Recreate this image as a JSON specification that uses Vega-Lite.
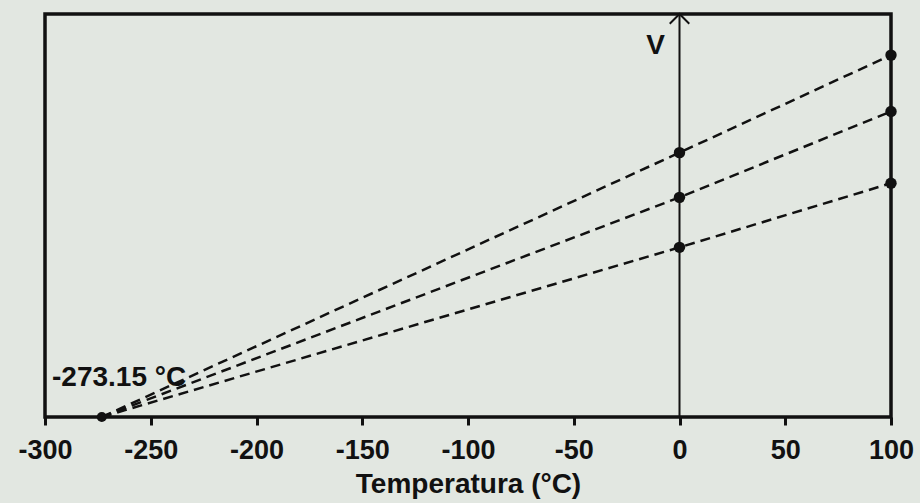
{
  "$schema": "https://vega.github.io/schema/vega-lite/v6.json",
  "width": 846,
  "height": 403,
  "autosize": "none",
  "padding": {"left": 45, "top": 14, "right": 29, "bottom": 86},
  "background": "#e2e7e1",
  "config": {
    "view": {"stroke": "#111", "strokeWidth": 3.5},
    "font": "Liberation Sans"
  },
  "data": {"values": [{}]},
  "datasets": {
    "lines": [
      {"series": "A", "T": -273.15, "V": 0},
      {"series": "A", "T": 0, "V": 65.6},
      {"series": "A", "T": 100, "V": 89.8},
      {"series": "B", "T": -273.15, "V": 0},
      {"series": "B", "T": 0, "V": 54.5},
      {"series": "B", "T": 100, "V": 75.8},
      {"series": "C", "T": -273.15, "V": 0},
      {"series": "C", "T": 0, "V": 42.1},
      {"series": "C", "T": 100, "V": 58.0}
    ]
  },
  "layer": [
    {
      "data": {"name": "lines"},
      "mark": {"type": "line", "strokeDash": [10, 6], "strokeWidth": 2.5, "color": "#111"},
      "encoding": {
        "x": {
          "field": "T", "type": "quantitative",
          "scale": {"domain": [-300, 100], "nice": false, "zero": false},
          "axis": {
            "values": [-300, -250, -200, -150, -100, -50, 0, 50, 100],
            "labelExpr": "'' + datum.value",
            "domain": false, "grid": false,
            "ticks": true, "tickSize": 8, "tickWidth": 3, "tickColor": "#111",
            "labelFontSize": 27, "labelFontWeight": "bold", "labelColor": "#111",
            "labelPadding": 12, "labelFlush": false, "labelOverlap": false,
            "title": "Temperatura (°C)", "titleFontSize": 28, "titleFontWeight": "bold",
            "titleColor": "#111", "titlePadding": 7
          }
        },
        "y": {
          "field": "V", "type": "quantitative",
          "scale": {"domain": [0, 100], "nice": false},
          "axis": null
        },
        "detail": {"field": "series"}
      }
    },
    {
      "data": {"name": "lines"},
      "transform": [{"filter": "datum.T >= 0"}],
      "mark": {"type": "point", "filled": true, "size": 130, "color": "#111", "opacity": 1},
      "encoding": {
        "x": {"field": "T", "type": "quantitative"},
        "y": {"field": "V", "type": "quantitative"}
      }
    },
    {
      "mark": {"type": "rule", "strokeWidth": 2, "color": "#111"},
      "encoding": {"x": {"datum": 0, "type": "quantitative"}}
    },
    {
      "mark": {"type": "point", "shape": "M-1,1L0,0L1,1", "filled": false, "strokeWidth": 2, "size": 380, "color": "#111", "opacity": 1},
      "encoding": {
        "x": {"datum": 0, "type": "quantitative"},
        "y": {"datum": 100, "type": "quantitative"}
      }
    },
    {
      "mark": {"type": "point", "filled": true, "size": 100, "color": "#111", "opacity": 1},
      "encoding": {
        "x": {"datum": -273.15, "type": "quantitative"},
        "y": {"datum": 0, "type": "quantitative"}
      }
    },
    {
      "mark": {"type": "text", "text": "V", "fontSize": 28, "fontWeight": "bold", "color": "#111", "align": "center", "baseline": "middle", "dx": -24},
      "encoding": {
        "x": {"datum": 0, "type": "quantitative"},
        "y": {"datum": 92, "type": "quantitative"}
      }
    },
    {
      "mark": {"type": "text", "text": "-273.15 °C", "fontSize": 28, "fontWeight": "bold", "color": "#111", "align": "left", "baseline": "middle", "dx": 7},
      "encoding": {
        "x": {"datum": -300, "type": "quantitative"},
        "y": {"datum": 9.7, "type": "quantitative"}
      }
    }
  ]
}
